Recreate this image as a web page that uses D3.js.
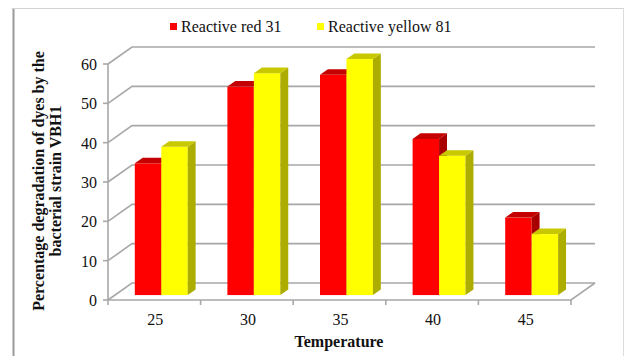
<!DOCTYPE html>
<html>
<head>
<meta charset="utf-8">
<script src="https://cdn.jsdelivr.net/npm/d3@7"></script>
<style>
  html, body { margin: 0; padding: 0; background: #fff; }
  svg { display: block; }
  text { font-family: "Liberation Serif", "Times New Roman", serif; fill: #111; }
</style>
</head>
<body>
<svg id="chart" width="626" height="356"></svg>
<script>
// Temperature groups and degradation (%) for each dye
const categories = ["25", "30", "35", "40", "45"];
const seriesNames = ["Reactive red 31", "Reactive yellow 81"];
const red31 = [33.5, 53.0, 56.0, 39.7, 19.7];
const yellow81 = [37.7, 56.4, 60.0, 35.4, 15.5];
const yTicks = [0, 10, 20, 30, 40, 50, 60];

// face colours: front, side, top
const palette = [
  { front: "#ff0000", side: "#a80000", top: "#c40000" },
  { front: "#ffff00", side: "#adad00", top: "#c8c800" }
];
const values = [red31, yellow81];

const svg = d3.select("#chart");

// outer frame
svg.append("line").attr("x1", 13.5).attr("y1", 8).attr("x2", 13.5).attr("y2", 356)
  .attr("stroke", "#9a9a9a").attr("stroke-width", 2);
svg.append("line").attr("x1", 13).attr("y1", 8.5).attr("x2", 623).attr("y2", 8.5)
  .attr("stroke", "#d2d2d2").attr("stroke-width", 1);
svg.append("line").attr("x1", 623.5).attr("y1", 8).attr("x2", 623.5).attr("y2", 356)
  .attr("stroke", "#dcdcdc").attr("stroke-width", 1);

// front plane geometry and depth vector of the 3-D box
const left = 108, right = 571;
const depth = { dx: 24, dy: -17 };
const barFront = 0.29, barBack = 0.62;   // bar slab position inside the depth

const x = d3.scaleBand().domain(categories).range([left, right]).paddingInner(0).paddingOuter(0);
const xs = d3.scaleBand().domain(seriesNames).range([0, x.bandwidth()]).paddingInner(0).paddingOuter(0.75);
const y = d3.scaleLinear().domain([0, 60]).range([300, 64]);

const gridColor = "#a8a8a8";
const grid = svg.append("g").attr("fill", "none").attr("stroke", gridColor).attr("stroke-width", 1.6);

// back wall + side wall gridlines
yTicks.forEach(t => {
  const yf = y(t);
  grid.append("path").attr("d", d3.line()([
    [left, yf], [left + depth.dx, yf + depth.dy], [right + depth.dx, yf + depth.dy]
  ]));
});
// floor front edge and right edge
grid.append("path").attr("d", d3.line()([
  [left, y(0)], [right, y(0)], [right + depth.dx, y(0) + depth.dy]
]));
// vertical axis
grid.append("line").attr("x1", left).attr("x2", left).attr("y1", y(60)).attr("y2", y(0));
// y ticks
yTicks.forEach(t => {
  grid.append("line").attr("x1", left - 5).attr("x2", left).attr("y1", y(t)).attr("y2", y(t));
});
// x ticks on the front floor edge
const xTickPos = categories.map(c => x(c)).concat([right]);
xTickPos.forEach(px => {
  grid.append("line").attr("x1", px).attr("x2", px).attr("y1", y(0)).attr("y2", y(0) + 5);
});

// y tick labels
svg.append("g").selectAll("text").data(yTicks).join("text")
  .attr("x", 97).attr("y", d => y(d) + 6)
  .attr("text-anchor", "end").attr("font-size", 16).text(d => d);

// category labels
svg.append("g").selectAll("text").data(categories).join("text")
  .attr("x", d => x(d) + x.bandwidth() / 2 + 1).attr("y", 325)
  .attr("text-anchor", "middle").attr("font-size", 16).text(d => d);

// bars: drawn left to right so nearer faces overlap correctly
const bars = svg.append("g");
const fx = barFront * depth.dx, fy = barFront * depth.dy;
const sx = (barBack - barFront) * depth.dx, sy = (barBack - barFront) * depth.dy;
categories.forEach((c, i) => {
  seriesNames.forEach((s, k) => {
    const v = values[k][i];
    const x0 = x(c) + xs(s) + fx, x1 = x0 + xs.bandwidth();
    const yb = y(0) + fy, yt = y(v) + fy;
    const col = palette[k];
    bars.append("rect").attr("x", x0).attr("y", yt).attr("width", x1 - x0).attr("height", yb - yt)
      .attr("fill", col.front);
    bars.append("path").attr("fill", col.side).attr("d", d3.line()([
      [x1, yb], [x1 + sx, yb + sy], [x1 + sx, yt + sy], [x1, yt]
    ]) + "Z");
    bars.append("path").attr("fill", col.top).attr("d", d3.line()([
      [x0, yt], [x1, yt], [x1 + sx, yt + sy], [x0 + sx, yt + sy]
    ]) + "Z");
  });
});

// legend
const legendX = [170, 317];
const legend = svg.append("g");
seriesNames.forEach((s, k) => {
  legend.append("rect").attr("x", legendX[k]).attr("y", 23).attr("width", 7).attr("height", 7)
    .attr("fill", palette[k].front);
  legend.append("text").attr("x", legendX[k] + 11).attr("y", 32).attr("font-size", 16).text(s);
});

// axis titles
svg.append("text").attr("x", 339).attr("y", 347).attr("text-anchor", "middle")
  .attr("font-size", 16).attr("font-weight", "bold").text("Temperature");

const yTitle = svg.append("text").attr("transform", "translate(0,181) rotate(-90)")
  .attr("text-anchor", "middle").attr("font-size", 16).attr("font-weight", "bold");
yTitle.append("tspan").attr("x", 0).attr("y", 44).text("Percentage degradation of dyes by the");
yTitle.append("tspan").attr("x", 0).attr("y", 61).text("bacterial strain VBH1");
</script>
</body>
</html>
